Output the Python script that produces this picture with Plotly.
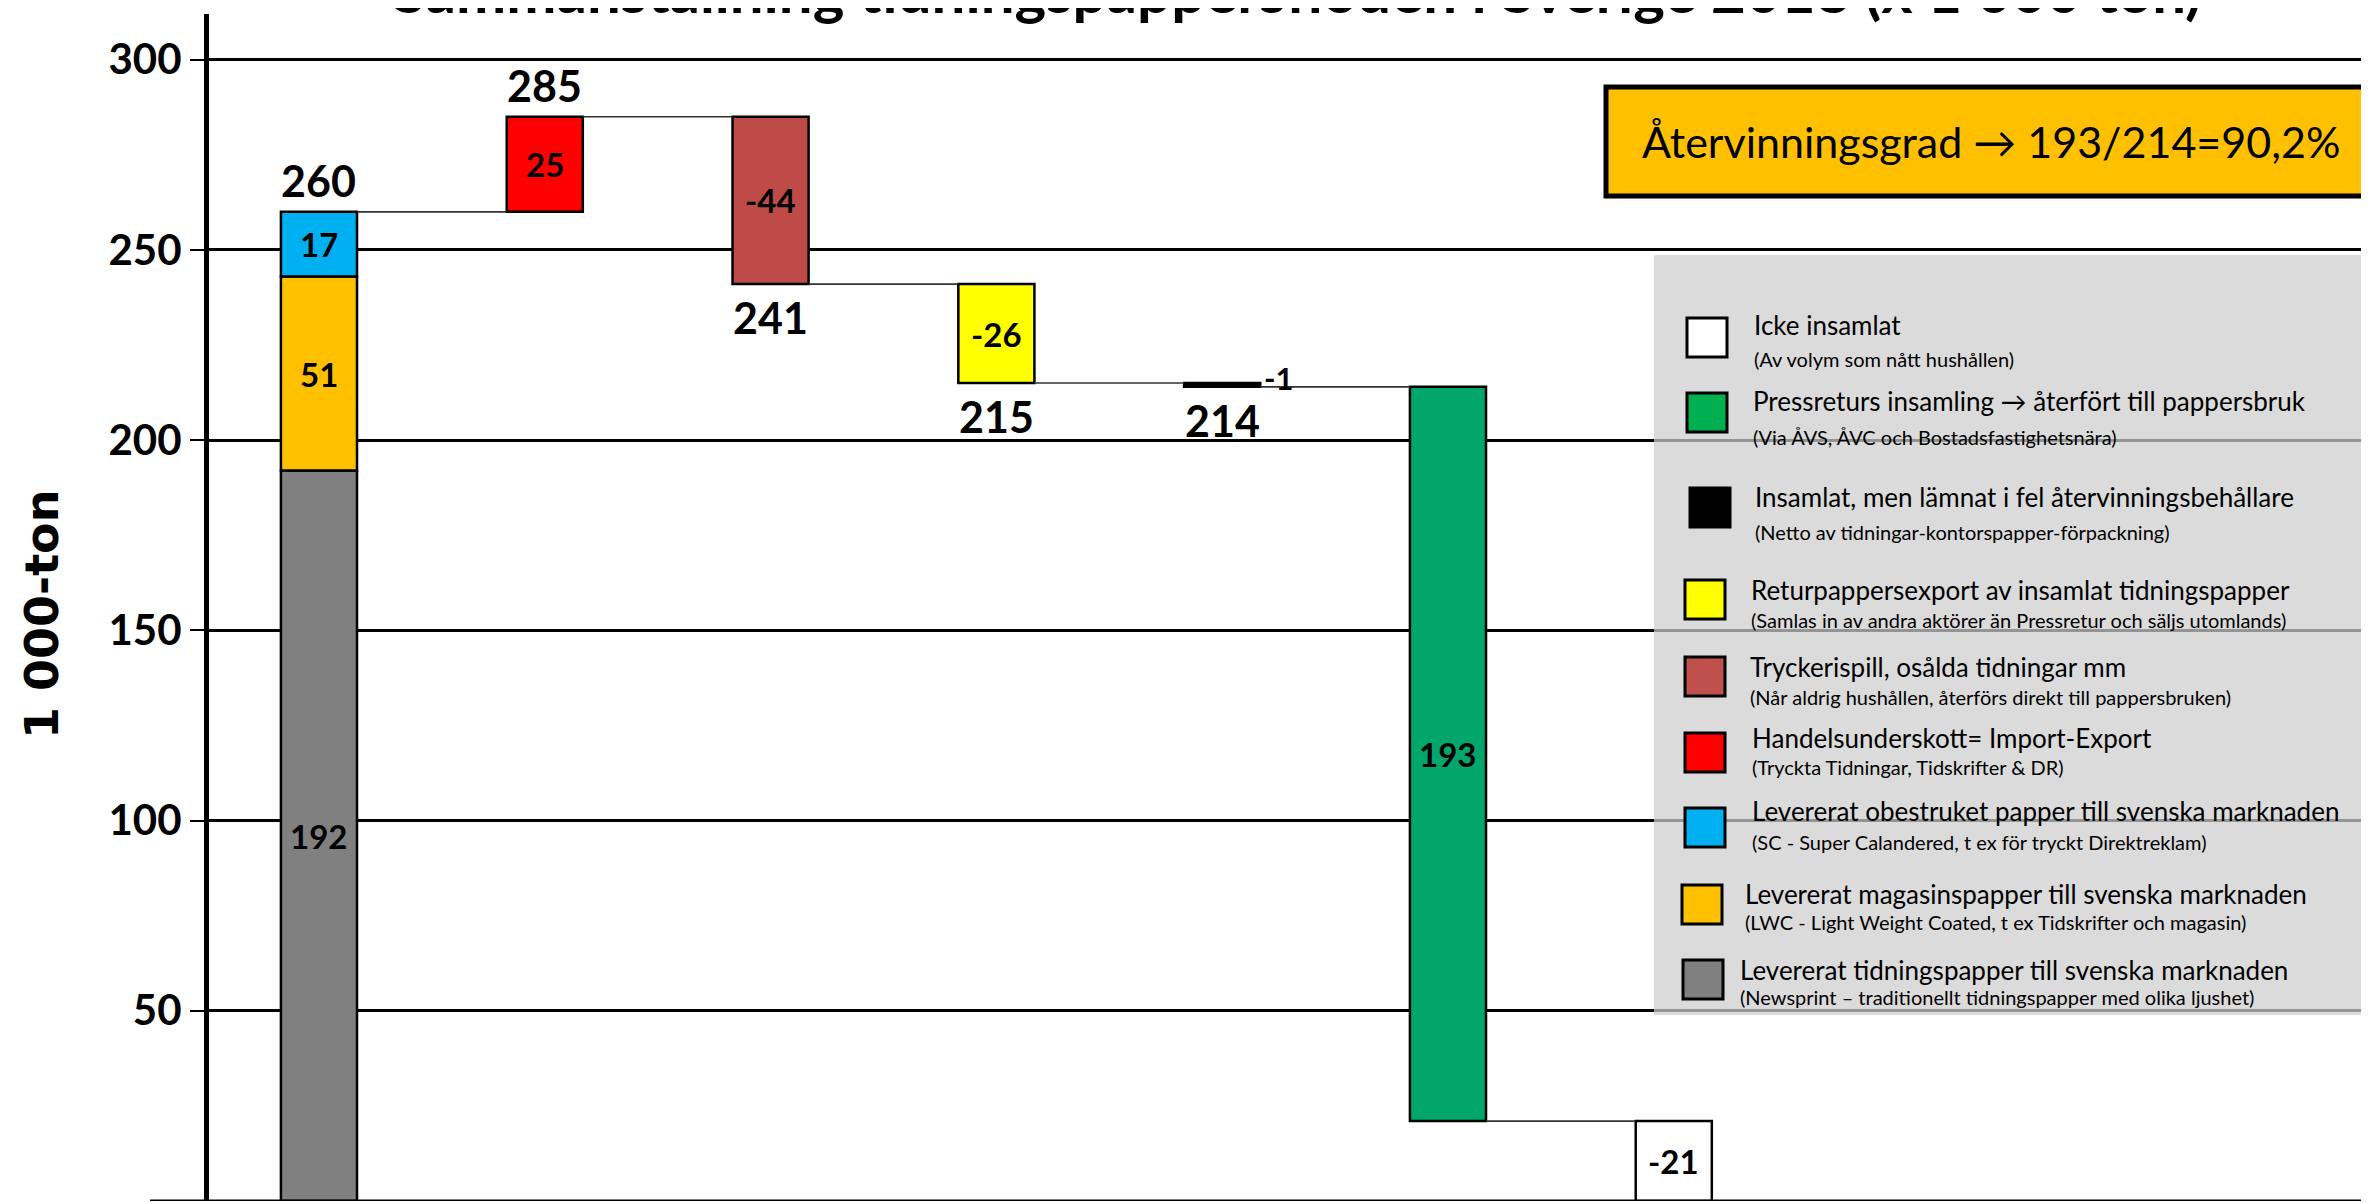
import plotly.graph_objects as go
import numpy as np

# ------------------------------------------------------------------ data
title_text = "Sammanställning tidningspappersflöden i Sverige 2018 (x 1 000 ton)"
y_title = "1 000-ton"
ratio_text = "Återvinningsgrad → 193/214=90,2%"

# first (stacked) column: delivered paper to the Swedish market
stack_names = ["Levererat tidningspapper", "Levererat magasinspapper", "Levererat obestruket papper"]
stack_values = [192, 51, 17]
stack_colors = ["#808080", "#FFC000", "#00B0F0"]

# waterfall steps that follow
step_names = ["Handelsunderskott", "Tryckerispill", "Returpappersexport",
              "Fel återvinningsbehållare", "Pressreturs insamling", "Icke insamlat"]
step_values = [25, -44, -26, -1, -193, -21]
step_labels = ["25", "-44", "-26", "-1", "193", "-21"]
step_colors = ["#FF0000", "#BE4B48", "#FFFF00", "#000000", "#00A66B", "#FFFFFF"]
show_total_after = [True, True, True, True, False, False]

y_ticks = [50, 100, 150, 200, 250, 300]

legend_titles = [
    "Icke insamlat",
    "Pressreturs insamling → återfört till pappersbruk",
    "Insamlat, men lämnat i fel återvinningsbehållare",
    "Returpappersexport av insamlat tidningspapper",
    "Tryckerispill, osålda tidningar mm",
    "Handelsunderskott= Import-Export",
    "Levererat obestruket papper till svenska marknaden",
    "Levererat magasinspapper till svenska marknaden",
    "Levererat tidningspapper till svenska marknaden",
]
legend_subtitles = [
    "(Av volym som nått hushållen)",
    "(Via ÅVS, ÅVC och Bostadsfastighetsnära)",
    "(Netto av tidningar-kontorspapper-förpackning)",
    "(Samlas in av andra aktörer än Pressretur och säljs utomlands)",
    "(Når aldrig hushållen, återförs direkt till pappersbruken)",
    "(Tryckta Tidningar, Tidskrifter & DR)",
    "(SC - Super Calandered, t ex för tryckt Direktreklam)",
    "(LWC - Light Weight Coated, t ex Tidskrifter och magasin)",
    "(Newsprint – traditionellt tidningspapper med olika ljushet)",
]
legend_colors = ["#FFFFFF", "#00B050", "#000000", "#FFFF00", "#C0504D",
                 "#FF0000", "#00B0F0", "#FFC000", "#808080"]

# ------------------------------------------------------------------ layout constants
W, H = 2369, 1202
OFF = 8                      # default page margin of the html body
ML, MR, MT, MB = 201, 8, 6, 9
BAR_W = 0.337
X_RANGE = [-0.487, 9.079]
Y_RANGE = [0, 312]

FONT_NUM = "Lato"
FONT_TXT = "Lato"


def px_x(sx):
    """screen pixel x -> paper x"""
    return (sx - OFF - ML) / (W - ML - MR)


def px_y(sy):
    """screen pixel y -> paper y"""
    return (H - MB - (sy - OFF)) / (H - MT - MB)


# ------------------------------------------------------------------ derived bar geometry
stack_bases = np.concatenate([[0], np.cumsum(stack_values)[:-1]])
stack_top = float(np.sum(stack_values))
step_bases = stack_top + np.concatenate([[0], np.cumsum(step_values)[:-1]])
step_after = step_bases + np.array(step_values)

xs = [0] * len(stack_values) + list(range(1, len(step_values) + 1))
heights = list(stack_values) + list(step_values)
bases = list(stack_bases) + list(step_bases)
colors = stack_colors + step_colors
names = stack_names + step_names

fig = go.Figure()
fig.add_trace(go.Bar(
    x=xs, y=heights, base=bases, width=BAR_W,
    marker=dict(color=colors, line=dict(color="black", width=2.5)),
    hovertext=names, hoverinfo="text+y",
))

annotations = []
shapes = []

# labels inside the bars
inside_labels = [str(v) for v in stack_values] + step_labels
for x, h, b, lab in zip(xs, heights, bases, inside_labels):
    if abs(h) < 5:
        annotations.append(dict(x=x + BAR_W / 2, y=b + h / 2, xref="x", yref="y",
                                text=lab, showarrow=False, xanchor="left", yanchor="middle",
                                xshift=2, yshift=7,
                                font=dict(family=FONT_NUM, size=31, color="black", weight="bold")))
    else:
        annotations.append(dict(x=x, y=b + h / 2, xref="x", yref="y",
                                text=lab, showarrow=False,
                                font=dict(family=FONT_NUM, size=33, color="black", weight="bold")))

# running totals above / below
annotations.append(dict(x=0, y=stack_top, xref="x", yref="y", text=f"{stack_top:.0f}",
                        showarrow=False, yanchor="bottom", yshift=4,
                        font=dict(family=FONT_NUM, size=43, color="black", weight="bold")))
for i, (v, after, show) in enumerate(zip(step_values, step_after, show_total_after)):
    if not show:
        continue
    if v > 0:
        annotations.append(dict(x=i + 1, y=after, xref="x", yref="y", text=f"{after:.0f}",
                                showarrow=False, yanchor="bottom", yshift=4,
                                font=dict(family=FONT_NUM, size=43, color="black", weight="bold")))
    else:
        annotations.append(dict(x=i + 1, y=after, xref="x", yref="y", text=f"{after:.0f}",
                                showarrow=False, yanchor="top", yshift=-6,
                                font=dict(family=FONT_NUM, size=43, color="black", weight="bold")))

# connector lines between bars
levels = [stack_top] + list(step_after[:-1])
for i, lvl in enumerate(levels):
    shapes.append(dict(type="line", xref="x", yref="y",
                       x0=i + BAR_W / 2, x1=i + 1 - BAR_W / 2, y0=lvl, y1=lvl,
                       line=dict(color="#333333", width=1.6), layer="above"))

# bottom axis line (extends a little left of the y axis)
shapes.append(dict(type="line", xref="paper", yref="y", x0=px_x(150), x1=1.01, y0=0, y1=0,
                   line=dict(color="black", width=3), layer="above"))

# orange ratio box
shapes.append(dict(type="rect", xref="paper", yref="paper",
                   x0=px_x(1606), x1=px_x(2440), y0=px_y(196), y1=px_y(87),
                   fillcolor="#FFC000", line=dict(color="black", width=5), layer="above"))
annotations.append(dict(x=px_x(1640), y=px_y(141), xref="paper", yref="paper",
                        text=ratio_text, showarrow=False, xanchor="left", yanchor="middle",
                        font=dict(family=FONT_TXT, size=43, color="black")))

# legend panel
shapes.append(dict(type="rect", xref="paper", yref="paper",
                   x0=px_x(1654), x1=px_x(2440), y0=px_y(1015), y1=px_y(255),
                   fillcolor="rgba(205,205,205,0.72)", line=dict(width=0), layer="above"))
sq_top = [318, 393, 488, 580, 657, 733, 808, 885, 960]
sq_left = [1687, 1687, 1690, 1685, 1685, 1685, 1685, 1682, 1683]
txt_left = [1752, 1751, 1753, 1749, 1748, 1750, 1750, 1743, 1738]
main_y = [325, 401, 497, 590, 667, 738, 811, 894, 970]
sub_y = [359, 437, 532, 620, 697, 767, 842, 922, 997]
for k, (t, s, c) in enumerate(zip(legend_titles, legend_subtitles, legend_colors)):
    shapes.append(dict(type="rect", xref="paper", yref="paper",
                       x0=px_x(sq_left[k]), x1=px_x(sq_left[k] + 40),
                       y0=px_y(sq_top[k] + 39), y1=px_y(sq_top[k]),
                       fillcolor=c, line=dict(color="black", width=3), layer="above"))
    annotations.append(dict(x=px_x(txt_left[k]), y=px_y(main_y[k]), xref="paper", yref="paper",
                            text=t, showarrow=False, xanchor="left", yanchor="middle",
                            font=dict(family=FONT_TXT, size=26, color="black")))
    annotations.append(dict(x=px_x(txt_left[k]), y=px_y(sub_y[k]), xref="paper", yref="paper",
                            text=s, showarrow=False, xanchor="left", yanchor="middle",
                            font=dict(family=FONT_TXT, size=20, color="black")))

# title (mostly above the visible page, as in the original)
annotations.append(dict(x=px_x(1297), y=px_y(28), xref="paper", yref="paper",
                        text=title_text, showarrow=False, xanchor="center", yanchor="bottom",
                        font=dict(family=FONT_NUM, size=60, color="black", weight="bold")))

# y axis title
annotations.append(dict(x=px_x(42), y=px_y(615), xref="paper", yref="paper",
                        text=y_title, showarrow=False, textangle=-90,
                        xanchor="center", yanchor="middle",
                        font=dict(family="DejaVu Sans", size=46, color="black", weight="bold")))

fig.update_layout(
    width=W, height=H,
    margin=dict(l=ML, r=MR, t=MT, b=MB, pad=0),
    plot_bgcolor="white", paper_bgcolor="white",
    showlegend=False, barmode="overlay",
    annotations=annotations, shapes=shapes,
    xaxis=dict(range=X_RANGE, visible=False, fixedrange=True),
    yaxis=dict(range=Y_RANGE, tickvals=y_ticks, ticktext=[str(t) for t in y_ticks],
               showgrid=True, gridcolor="black", gridwidth=2.5,
               showline=True, linecolor="black", linewidth=5,
               ticks="outside", ticklen=14, tickwidth=2, tickcolor="black",
               ticklabelstandoff=0,
               tickfont=dict(family=FONT_NUM, size=42, color="black", weight="bold"),
               zeroline=False, fixedrange=True),
)

fig.write_html("out.html")
